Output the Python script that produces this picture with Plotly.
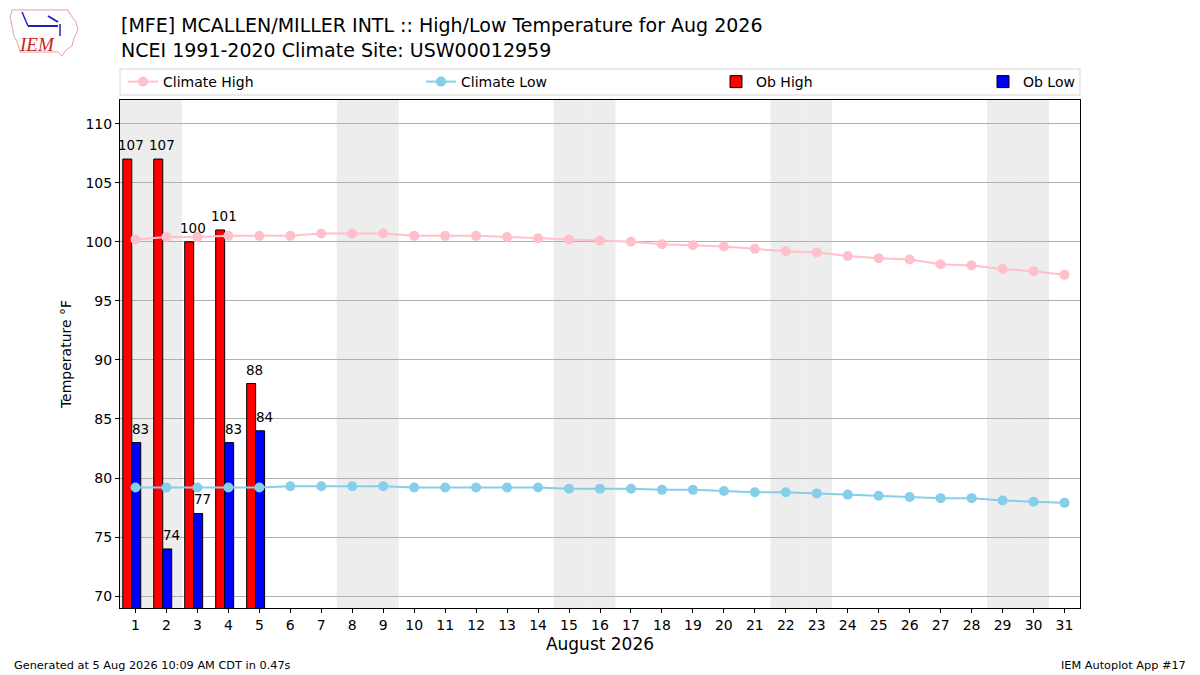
import plotly.graph_objects as go
import pandas as pd

# ---------------- data ----------------
days = list(range(1, 32))
climate_high = [100.2, 100.4, 100.4, 100.5, 100.5, 100.5, 100.7, 100.7, 100.7, 100.5,
                100.5, 100.5, 100.4, 100.3, 100.2, 100.1, 100.0, 99.8, 99.7, 99.6,
                99.4, 99.2, 99.1, 98.8, 98.6, 98.5, 98.1, 98.0, 97.7, 97.5, 97.2]
climate_low = [79.2, 79.2, 79.2, 79.2, 79.2, 79.3, 79.3, 79.3, 79.3, 79.2,
               79.2, 79.2, 79.2, 79.2, 79.1, 79.1, 79.1, 79.0, 79.0, 78.9,
               78.8, 78.8, 78.7, 78.6, 78.5, 78.4, 78.3, 78.3, 78.1, 78.0, 77.9]
ob_days = [1, 2, 3, 4, 5]
ob_high = [107, 107, 100, 101, 88]
ob_low = [83, 74, 77, 83, 84]
x_tick_labels = [str(d) for d in days]
y_ticks = [70, 75, 80, 85, 90, 95, 100, 105, 110]

title_text = ("[MFE] MCALLEN/MILLER INTL :: High/Low Temperature for Aug 2026<br>"
              "NCEI 1991-2020 Climate Site: USW00012959")
footer_left = "Generated at 5 Aug 2026 10:09 AM CDT in 0.47s"
footer_right = "IEM Autoplot App #17"

FONT = "DejaVu Sans"
W, H = 1200, 675
ML, MR, MT, MB = 120, 120, 100, 67
PW, PH = W - ML - MR, H - MT - MB


def px_x(p):
    return (p - ML) / PW


def px_y(p):
    return (H - MB - p) / PH


fig = go.Figure()

fig.add_trace(go.Bar(
    x=ob_days, y=ob_high, name="Ob High", offset=-0.41, width=0.29,
    marker=dict(color="#ff0000", line=dict(color="black", width=1)),
    legend="legend4"))
fig.add_trace(go.Bar(
    x=ob_days, y=ob_low, name="Ob Low", offset=-0.12, width=0.29,
    marker=dict(color="#0000ff", line=dict(color="black", width=1)),
    legend="legend5"))

fig.add_trace(go.Scatter(
    x=days, y=climate_high, name="Climate High", mode="lines+markers",
    line=dict(color="#ffc0cb", width=2), marker=dict(color="#ffc0cb", size=10),
    legend="legend2"))
fig.add_trace(go.Scatter(
    x=days, y=climate_low, name="Climate Low", mode="lines+markers",
    line=dict(color="#87ceeb", width=2), marker=dict(color="#87ceeb", size=10),
    legend="legend3"))

# value labels (annotations placed via the data axes)
annotations = []
for d, v in zip(ob_days, ob_high):
    annotations.append(dict(x=d - 0.15, y=v, xref="x", yref="y", text=str(v),
                            showarrow=False, xanchor="center", yanchor="bottom",
                            yshift=4, font=dict(family=FONT, size=13.5, color="black")))
for d, v in zip(ob_days, ob_low):
    annotations.append(dict(x=d + 0.15, y=v, xref="x", yref="y", text=str(v),
                            showarrow=False, xanchor="center", yanchor="bottom",
                            yshift=4, font=dict(family=FONT, size=13.5, color="black")))

# weekend shading
shapes = []
dates = pd.date_range("2026-08-01", "2026-08-31")
for d in dates:
    if d.weekday() >= 5:
        shapes.append(dict(type="rect", xref="x", yref="paper",
                           x0=d.day - 0.5, x1=d.day + 0.5, y0=0, y1=1,
                           fillcolor="#ededed", line=dict(width=0), layer="below"))

# legend frame
shapes.append(dict(type="rect", xref="paper", yref="paper",
                   x0=0, x1=1, y0=px_y(95), y1=px_y(69),
                   line=dict(color="#d6d6d6", width=1), fillcolor="rgba(0,0,0,0)"))

# logo (simple Iowa outline)
iowa = [(12, 10), (68, 10), (70, 14), (76, 22), (78, 30), (74, 38), (72, 46),
        (66, 50), (62, 56), (58, 52), (20, 52), (18, 44), (14, 36), (12, 26), (10, 18)]
path = "M " + " L ".join(f"{px_x(a):.5f},{px_y(b):.5f}" for a, b in iowa) + " Z"
shapes.append(dict(type="path", xref="paper", yref="paper", path=path,
                   line=dict(color="#e8a0a0", width=1), fillcolor="rgba(0,0,0,0)"))
shapes.append(dict(type="line", xref="paper", yref="paper",
                   x0=px_x(28), x1=px_x(58), y0=px_y(26), y1=px_y(26),
                   line=dict(color="#2020c0", width=2)))
shapes.append(dict(type="line", xref="paper", yref="paper",
                   x0=px_x(22), x1=px_x(28), y0=px_y(12), y1=px_y(26),
                   line=dict(color="#2020c0", width=1.5)))
shapes.append(dict(type="line", xref="paper", yref="paper",
                   x0=px_x(48), x1=px_x(58), y0=px_y(16), y1=px_y(22),
                   line=dict(color="#2020c0", width=2)))
shapes.append(dict(type="line", xref="paper", yref="paper",
                   x0=px_x(60), x1=px_x(60), y0=px_y(24), y1=px_y(36),
                   line=dict(color="#2020c0", width=1.5)))

annotations += [
    dict(text=title_text, xref="paper", yref="paper", x=px_x(119), y=px_y(12),
         showarrow=False, align="left", xanchor="left", yanchor="top",
         font=dict(family=FONT, size=19, color="black")),
    dict(text="<i>IEM</i>", xref="paper", yref="paper", x=px_x(37), y=px_y(45),
         showarrow=False, font=dict(family="Liberation Serif", size=19, color="#cc2222"),
         xanchor="center", yanchor="middle"),
    dict(text=footer_left, xref="paper", yref="paper", x=px_x(12), y=px_y(665),
         showarrow=False, font=dict(family=FONT, size=11.3, color="black"),
         xanchor="left", yanchor="middle"),
    dict(text=footer_right, xref="paper", yref="paper", x=px_x(1188), y=px_y(665),
         showarrow=False, font=dict(family=FONT, size=11.3, color="black"),
         xanchor="right", yanchor="middle"),
]

leg_common = dict(orientation="h", yref="paper", y=px_y(82), yanchor="middle",
                  xanchor="left", bgcolor="rgba(0,0,0,0)", borderwidth=0,
                  font=dict(family=FONT, size=14, color="black"))

fig.update_layout(
    width=W, height=H,
    margin=dict(l=ML, r=MR, t=MT, b=MB, autoexpand=False),
    paper_bgcolor="white", plot_bgcolor="white",
    font=dict(family=FONT, size=14, color="black"),
    barmode="overlay",
    xaxis=dict(range=[0.5, 31.5], tickmode="array", tickvals=days,
               ticktext=x_tick_labels, showgrid=False, zeroline=False,
               showline=True, linecolor="black", linewidth=1, mirror=True,
               ticks="outside", ticklen=4, tickcolor="black",
               tickfont=dict(size=14),
               title=dict(text="August 2026", font=dict(size=17), standoff=6)),
    yaxis=dict(range=[69, 112], tickmode="array", tickvals=y_ticks,
               showgrid=True, gridcolor="#b0b0b0", gridwidth=1, zeroline=False,
               showline=True, linecolor="black", linewidth=1, mirror=True,
               ticks="outside", ticklen=4, tickcolor="black",
               tickfont=dict(size=14),
               title=dict(text="Temperature °F", font=dict(size=14), standoff=10)),
    legend2=dict(x=px_x(123), **leg_common),
    legend3=dict(x=px_x(421), **leg_common),
    legend4=dict(x=px_x(716), **leg_common),
    legend5=dict(x=px_x(983), **leg_common),
    shapes=shapes,
    annotations=annotations,
)

fig.write_html("out.html", config={"displayModeBar": False},
               post_script="document.body.style.margin='0';document.body.style.padding='0';")
